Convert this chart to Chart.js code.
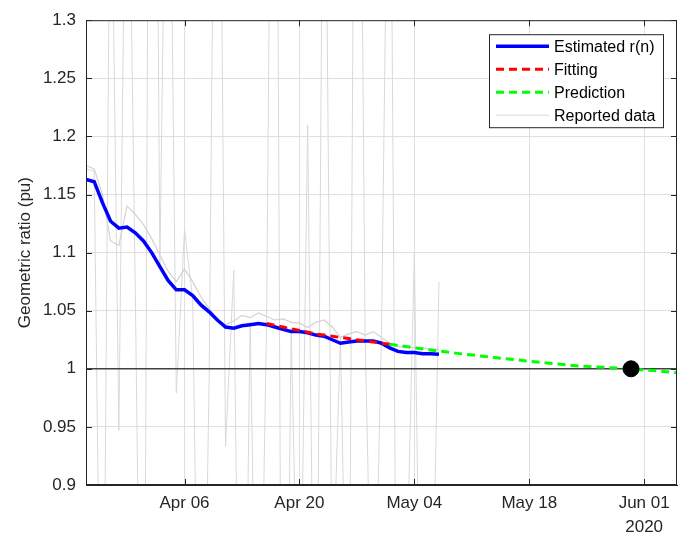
<!DOCTYPE html>
<html>
<head>
<meta charset="utf-8">
<script src="https://cdn.jsdelivr.net/npm/chart.js@4.4.0/dist/chart.umd.min.js"></script>
<style>
  body { margin: 0; background: #fff; }
  #wrap { width: 682px; height: 535px; }
</style>
</head>
<body>
<div id="wrap"><canvas id="ratio" width="682" height="535"></canvas></div>
<script>
// x values are days counted from Mar 25 2020 (day 0)
const tickDays = [12, 26, 40, 54, 68]
const tickLabels = ['Apr 06', 'Apr 20', 'May 04', 'May 18', ['Jun 01', '2020']]

// daily values, day 0 .. 43
const estimated = [1.163, 1.161, 1.143, 1.127, 1.121, 1.122, 1.117, 1.110, 1.100, 1.088,
  1.076, 1.068, 1.068, 1.063, 1.055, 1.049, 1.042, 1.036, 1.035, 1.037,
  1.038, 1.039, 1.038, 1.036, 1.034, 1.032, 1.032, 1.031, 1.029, 1.028,
  1.025, 1.022, 1.023, 1.024, 1.024, 1.024, 1.022, 1.018, 1.015, 1.014,
  1.014, 1.013, 1.013, 1.0125]

const reported = [1.172, 1.170, 0.60, 1.50, 0.947, 1.57, 1.07, 0.50, 2.10, 1.09,
  1.62, 0.979, 1.12, 1.06, 0.55, 0.99, 1.77, 0.933, 1.085, 0.50,
  1.04, 0.62, 1.04, 1.90, 0.40, 1.035, 0.70, 1.21, 0.60, 1.60,
  0.80, 1.027, 0.65, 1.90, 1.029, 0.70, 1.032, 1.60, 0.55, 0.80,
  1.10, 0.60, 0.70, 1.075]

const smoothed = [1.175, 1.172, 1.150, 1.110, 1.106, 1.140, 1.133, 1.124, 1.112, 1.098,
  1.084, 1.075, 1.086, 1.075, 1.062, 1.052, 1.042, 1.038, 1.041, 1.046,
  1.044, 1.048, 1.045, 1.042, 1.043, 1.040, 1.0395, 1.0355, 1.040, 1.042,
  1.036, 1.027, 1.030, 1.032, 1.029, 1.032, 1.027, 1.022, 1.019, 1.019,
  1.018, 1.018, 1.017, 1.017]

const fitDays = [22, 23, 24, 25, 26, 27, 28, 29, 30, 31, 32, 33, 34, 35, 36, 37]
const fitValues = [1.039, 1.0375, 1.036, 1.0345, 1.033, 1.0315, 1.030, 1.029,
  1.028, 1.027, 1.026, 1.025, 1.024, 1.023, 1.022, 1.0212]

const predDays = [37, 40, 45, 50, 55, 60, 65, 70, 72]
const predValues = [1.0212, 1.018, 1.0135, 1.0095, 1.0058, 1.0025, 1.0005, 0.998, 0.9966]

const markerDay = 66.4
const markerValue = 1.0

const FONT = "'Liberation Sans', Arial, sans-serif"
const INK = '#262626'

const daily = (arr) => arr.map((v, i) => ({ x: i, y: v }))
const paired = (xs, ys) => xs.map((d, i) => ({ x: d, y: ys[i] }))

const axesBox = {
  id: 'axesBox',
  afterDatasetsDraw(chart) {
    const { ctx, chartArea: a, scales } = chart
    ctx.save()
    ctx.strokeStyle = INK
    ctx.lineWidth = 1
    ctx.strokeRect(a.left + 0.5, a.top + 0.5, a.right - a.left - 1, a.bottom - a.top - 1)
    ctx.beginPath()
    scales.x.ticks.forEach(t => {
      const px = Math.round(scales.x.getPixelForValue(t.value)) + 0.5
      ctx.moveTo(px, a.bottom); ctx.lineTo(px, a.bottom - 6)
      ctx.moveTo(px, a.top); ctx.lineTo(px, a.top + 6)
    })
    scales.y.ticks.forEach(t => {
      const py = Math.round(scales.y.getPixelForValue(t.value)) + 0.5
      ctx.moveTo(a.left, py); ctx.lineTo(a.left + 6, py)
      ctx.moveTo(a.right, py); ctx.lineTo(a.right - 6, py)
    })
    ctx.stroke()
    ctx.restore()
  },
  afterDraw(chart) {
    const { ctx, chartArea: a } = chart
    const items = chart.data.datasets.filter(d => d.inLegend)
    const left = a.right - 188, top = a.top + 14, w = 174, rowH = 23
    const h = items.length * rowH + 1
    ctx.save()
    ctx.fillStyle = '#fff'
    ctx.fillRect(left, top, w, h)
    ctx.strokeStyle = INK
    ctx.lineWidth = 1
    ctx.strokeRect(left + 0.5, top + 0.5, w, h)
    ctx.font = '16px ' + FONT
    ctx.textBaseline = 'middle'
    items.forEach((ds, i) => {
      const y = top + 12 + i * rowH
      ctx.beginPath()
      ctx.strokeStyle = ds.borderColor
      ctx.lineWidth = ds.borderWidth
      ctx.setLineDash(ds.borderDash || [])
      ctx.moveTo(left + 7, y); ctx.lineTo(left + 60, y)
      ctx.stroke()
      ctx.setLineDash([])
      ctx.fillStyle = '#000'
      ctx.fillText(ds.label, left + 65, y + 1)
    })
    ctx.restore()
  }
}

new Chart(document.getElementById('ratio'), {
  type: 'line',
  data: {
    datasets: [
      { label: 'Estimated r(n)', data: daily(estimated), borderColor: '#0000ff', borderWidth: 3.5, order: 3, inLegend: true },
      { label: 'Fitting', data: paired(fitDays, fitValues), borderColor: '#ff0000', borderWidth: 3, borderDash: [8, 5], order: 2, inLegend: true },
      { label: 'Prediction', data: paired(predDays, predValues), borderColor: '#00ff00', borderWidth: 3, borderDash: [8, 5], order: 1, inLegend: true },
      { label: 'Reported data', data: daily(reported), borderColor: '#d9d9d9', borderWidth: 1, order: 6, inLegend: true },
      { label: 'smoothed', data: daily(smoothed), borderColor: '#d2d2d2', borderWidth: 1.2, order: 5 },
      { label: 'unity', data: paired([0, 72], [1, 1]), borderColor: '#404040', borderWidth: 1.5, order: 4 },
      { label: 'crossing', data: paired([markerDay], [markerValue]), showLine: false, pointRadius: 8,
        pointBackgroundColor: '#000', pointBorderColor: '#000', order: 0 }
    ]
  },
  options: {
    responsive: false,
    animation: false,
    events: [],
    layout: { autoPadding: false, padding: { top: 20, right: 5, left: 0, bottom: 0 } },
    elements: { point: { radius: 0 }, line: { tension: 0 } },
    plugins: { legend: { display: false }, tooltip: { enabled: false } },
    scales: {
      x: {
        type: 'linear',
        min: 0,
        max: 72,
        afterBuildTicks: s => { s.ticks = tickDays.map(v => ({ value: v })) },
        afterFit: s => { s.height = 50; s.paddingLeft = 0; s.paddingRight = 0 },
        ticks: {
          autoSkip: false,
          maxRotation: 0,
          padding: 6,
          color: INK,
          font: { family: FONT, size: 17, lineHeight: 1.41 },
          callback: (v, i) => tickLabels[i]
        },
        grid: { color: '#dfdfdf', drawTicks: false },
        border: { color: INK, width: 1 }
      },
      y: {
        min: 0.9,
        max: 1.3,
        afterFit: s => { s.width = 86 },
        ticks: {
          stepSize: 0.05,
          padding: 10,
          color: INK,
          font: { family: FONT, size: 17 },
          callback: v => String(+v.toFixed(2))
        },
        grid: { color: '#dfdfdf', drawTicks: false },
        border: { color: INK, width: 1 },
        title: {
          display: true,
          text: 'Geometric ratio (pu)',
          color: INK,
          font: { family: FONT, size: 17 },
          padding: { top: 15, bottom: 0 }
        }
      }
    }
  },
  plugins: [axesBox]
})
</script>
</body>
</html>
